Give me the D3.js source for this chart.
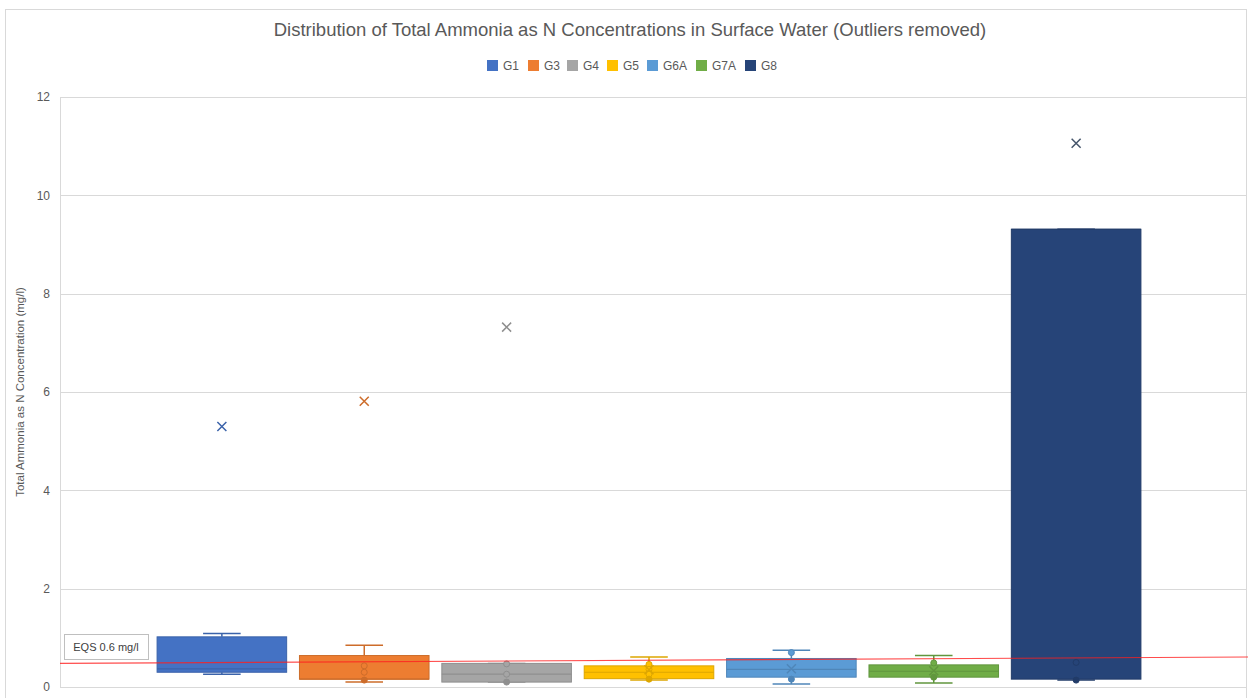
<!DOCTYPE html>
<html>
<head>
<meta charset="utf-8">
<script src="https://cdn.jsdelivr.net/npm/d3@7"></script>
<style>
  body { margin: 0; background: #fff; }
  svg { display: block; font-family: 'Liberation Sans', 'DejaVu Sans', sans-serif; }
</style>
</head>
<body>
<div id="chart"></div>
<script>
var groups = ['G1', 'G3', 'G4', 'G5', 'G6A', 'G7A', 'G8'];
var colors = ['#4472C4', '#ED7D31', '#A5A5A5', '#FFC000', '#5B9BD5', '#70AD47', '#264478'];
var q1 = [0.30, 0.16, 0.10, 0.17, 0.20, 0.20, 0.16];
var median = [0.37, 0.16, 0.26, 0.30, 0.36, 0.32, 9.31];
var q3 = [1.02, 0.64, 0.48, 0.43, 0.58, 0.45, 9.31];
var whiskerLow = [0.26, 0.10, 0.10, 0.14, 0.06, 0.08, 0.14];
var whiskerHigh = [1.09, 0.85, 0.48, 0.61, 0.75, 0.64, 9.31];
var means = [5.30, 5.81, 7.32, 0.35, 0.37, 0.33, 11.06];
var innerPoints = [[], [0.43, 0.30], [0.47, 0.26], [0.46, 0.36, 0.26], [0.70], [0.49], [0.50]];
var lowPoints = [[], [0.14], [0.10], [0.16], [0.16], [0.20], [0.14]];
var eqsLine = [0.48, 0.61];
var yTicks = [0, 2, 4, 6, 8, 10, 12];

var W = 1253, H = 698;
var mLeft = 60, mRight = 1246, mTop = 97, mBottom = 687;

var svg = d3.select('#chart').append('svg').attr('width', W).attr('height', H);

// outer chart border
svg.append('rect').attr('x', 5.5).attr('y', 9.5).attr('width', 1241).attr('height', 700)
   .style('fill', 'none').style('stroke', '#d9d9d9');

var y = d3.scaleLinear().domain([0, 12]).range([mBottom, mTop]);
// boxes sit a little left of the plot centre, like the excel chart
var x = d3.scaleBand().domain(groups).range([mLeft - 4, mRight - 4]).paddingInner(0.09).paddingOuter(0.71);

// gridlines
svg.selectAll('.grid').data(yTicks).enter().append('line')
   .attr('x1', mLeft).attr('x2', mRight)
   .attr('y1', function(d){ return Math.round(y(d)) + 0.5; })
   .attr('y2', function(d){ return Math.round(y(d)) + 0.5; })
   .style('stroke', '#d9d9d9');
svg.append('line').attr('x1', mLeft + 0.5).attr('x2', mLeft + 0.5).attr('y1', mTop).attr('y2', mBottom)
   .style('stroke', '#d9d9d9');

var yAxis = d3.axisLeft(y).tickValues(yTicks).tickSize(0).tickPadding(10);
var ga = svg.append('g').attr('transform', 'translate(' + mLeft + ',0)').call(yAxis);
ga.select('.domain').remove();
ga.selectAll('text').style('font-size', '12px').style('fill', '#595959')
  .style('font-family', "'Liberation Sans', sans-serif");

// title
svg.append('text').attr('x', 630).attr('y', 36).attr('text-anchor', 'middle')
   .style('font-size', '18.5px').style('fill', '#595959')
   .text('Distribution of Total Ammonia as N Concentrations in Surface Water (Outliers removed)');

// y axis title
svg.append('text').attr('transform', 'translate(24,392) rotate(-90)').attr('text-anchor', 'middle')
   .style('font-size', '11.5px').style('fill', '#595959')
   .text('Total Ammonia as N Concentration (mg/l)');

// legend
var legX = [487, 528, 567, 607, 647, 696, 745];
var leg = svg.selectAll('.leg').data(groups).enter().append('g')
   .attr('transform', function(d, i){ return 'translate(' + legX[i] + ',60)'; });
leg.append('rect').attr('width', 11).attr('height', 11).style('fill', function(d, i){ return colors[i]; });
leg.append('text').attr('x', 16).attr('y', 10).style('font-size', '12px').style('fill', '#595959')
   .text(function(d){ return d; });

function darker(c) { return d3.color(c).darker(0.4).formatHex(); }

var boxes = svg.selectAll('.box').data(groups).enter().append('g');
boxes.each(function(g, i) {
  var sel = d3.select(this);
  var x0 = x(g), bw = x.bandwidth(), cx = x0 + bw / 2, cap = bw * 0.29;
  var stroke = darker(colors[i]);
  // whiskers
  sel.append('line').attr('x1', cx).attr('x2', cx).attr('y1', y(q3[i])).attr('y2', y(whiskerHigh[i])).style('stroke', stroke).style('stroke-width', 1.5);
  sel.append('line').attr('x1', cx).attr('x2', cx).attr('y1', y(q1[i])).attr('y2', y(whiskerLow[i])).style('stroke', stroke).style('stroke-width', 1.5);
  sel.append('line').attr('x1', cx - cap / 2).attr('x2', cx + cap / 2).attr('y1', y(whiskerHigh[i])).attr('y2', y(whiskerHigh[i])).style('stroke', stroke).style('stroke-width', 1.5);
  sel.append('line').attr('x1', cx - cap / 2).attr('x2', cx + cap / 2).attr('y1', y(whiskerLow[i])).attr('y2', y(whiskerLow[i])).style('stroke', stroke).style('stroke-width', 1.5);
  // box
  sel.append('rect').attr('x', x0).attr('y', y(q3[i])).attr('width', bw).attr('height', y(q1[i]) - y(q3[i]))
     .style('fill', colors[i]).style('stroke', stroke).style('stroke-width', 1);
  sel.append('line').attr('x1', x0).attr('x2', x0 + bw).attr('y1', y(median[i])).attr('y2', y(median[i]))
     .style('stroke', stroke).style('stroke-width', 1.2);
  // points
  sel.selectAll('.ip').data(innerPoints[i]).enter().append('circle')
     .attr('cx', cx).attr('cy', function(d){ return y(d); }).attr('r', 3)
     .style('fill', colors[i]).style('stroke', stroke).style('stroke-width', 1);
  sel.selectAll('.lp').data(lowPoints[i]).enter().append('circle')
     .attr('cx', cx).attr('cy', function(d){ return y(d); }).attr('r', 3)
     .style('fill', stroke).style('stroke', stroke).style('stroke-width', 1);
  // mean marker
  var my = y(means[i]), s = 4.5;
  sel.append('path').attr('d', 'M' + (cx - s) + ',' + (my - s) + 'L' + (cx + s) + ',' + (my + s) + 'M' + (cx - s) + ',' + (my + s) + 'L' + (cx + s) + ',' + (my - s))
     .style('stroke', i === 6 ? '#44546A' : stroke).style('stroke-width', 1.5).style('fill', 'none');
});

// EQS line
svg.append('line').attr('x1', mLeft).attr('x2', 1248).attr('y1', y(eqsLine[0])).attr('y2', y(eqsLine[1]))
   .style('stroke', '#ff2020').style('stroke-width', 1.2).style('opacity', 0.8);

// EQS label
svg.append('rect').attr('x', 64.5).attr('y', 634.5).attr('width', 84).attr('height', 25)
   .style('fill', '#fff').style('stroke', '#bfbfbf');
svg.append('text').attr('x', 106).attr('y', 651).attr('text-anchor', 'middle')
   .style('font-size', '11px').style('fill', '#404040').text('EQS 0.6 mg/l');
</script>
</body>
</html>
